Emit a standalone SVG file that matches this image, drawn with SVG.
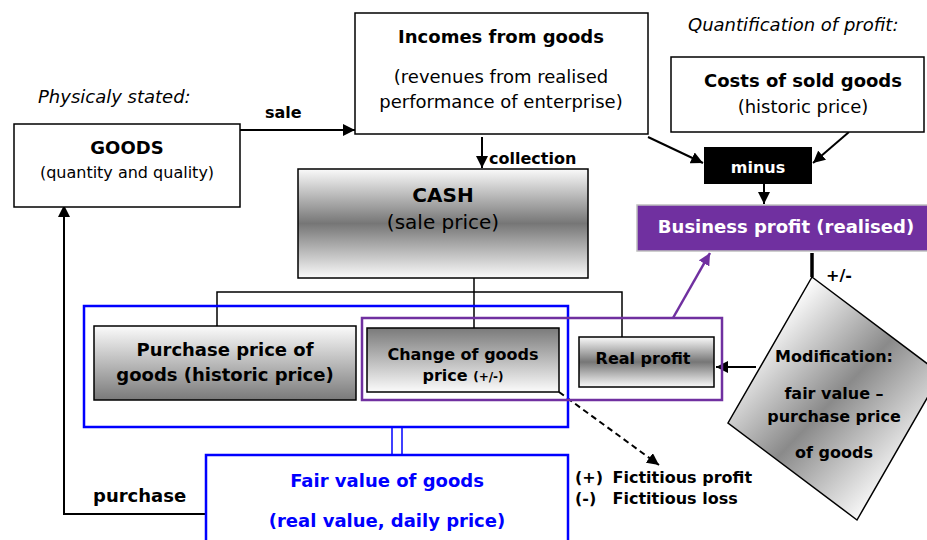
<svg xmlns="http://www.w3.org/2000/svg" width="927" height="540" viewBox="0 0 927 540">
<style>
  text { font-family: "DejaVu Sans", Verdana, sans-serif; fill: #000; }
  .b { font-weight: bold; }
  .c { text-anchor: middle; }
  .it { font-style: italic; font-size: 18px; }
  .box { fill: #fff; stroke: #000; stroke-width: 1.5; }
  .ln { fill: none; stroke: #000; stroke-width: 1.5; }
  .arr { fill: none; stroke: #000; stroke-width: 2; marker-end: url(#ah); }
</style>
<defs>
  <marker id="ah" markerUnits="userSpaceOnUse" markerWidth="14" markerHeight="12" refX="12" refY="6" orient="auto">
    <path d="M0,0 L12,6 L0,12 Z" fill="#000"/>
  </marker>
  <marker id="ahp" markerUnits="userSpaceOnUse" markerWidth="14" markerHeight="12" refX="12" refY="6" orient="auto">
    <path d="M0,0 L12,6 L0,12 Z" fill="#7030A0"/>
  </marker>
  <linearGradient id="gMid" x1="0" y1="0" x2="0" y2="1">
    <stop offset="0" stop-color="#fafafa"/>
    <stop offset="0.5" stop-color="#767676"/>
    <stop offset="1" stop-color="#fafafa"/>
  </linearGradient>
  <linearGradient id="gDown" x1="0" y1="0" x2="0" y2="1">
    <stop offset="0" stop-color="#fbfbfb"/>
    <stop offset="1" stop-color="#7a7a7a"/>
  </linearGradient>
  <linearGradient id="gUp" x1="0" y1="0" x2="0" y2="1">
    <stop offset="0" stop-color="#7a7a7a"/>
    <stop offset="1" stop-color="#fbfbfb"/>
  </linearGradient>
  <linearGradient id="gDia" gradientUnits="userSpaceOnUse" x1="770" y1="320" x2="915" y2="460">
    <stop offset="0" stop-color="#ffffff"/>
    <stop offset="0.5" stop-color="#8a8a8a"/>
    <stop offset="1" stop-color="#f8f8f8"/>
  </linearGradient>
</defs>

<text class="it" x="38" y="103">Physicaly stated:</text>
<text class="it" x="688" y="31">Quantification of profit:</text>

<g id="connectors">
  <line class="arr" x1="240" y1="130" x2="355" y2="130"/>
  <line class="arr" x1="482" y1="137" x2="482" y2="168"/>
  <line class="arr" x1="648" y1="137" x2="703" y2="163"/>
  <line class="arr" x1="849" y1="132" x2="813" y2="163"/>
  <line class="arr" x1="764" y1="184" x2="764" y2="204"/>
  <line x1="812" y1="253" x2="812" y2="277" stroke="#000" stroke-width="3.5"/>
  <line class="arr" x1="756" y1="367" x2="716" y2="367"/>
  <line x1="673" y1="318" x2="710" y2="253" stroke="#7030A0" stroke-width="2.5" marker-end="url(#ahp)"/>
  <line class="arr" x1="559" y1="392" x2="659" y2="465" stroke-dasharray="6,4"/>
  <line class="ln" x1="474" y1="278" x2="474" y2="328"/>
  <polyline class="ln" points="217,326 217,292 622,292 622,337"/>
  <line x1="392" y1="428" x2="392" y2="455" stroke="#0000FF" stroke-width="1.5"/>
  <line x1="402" y1="428" x2="402" y2="455" stroke="#0000FF" stroke-width="1.5"/>
  <polyline class="arr" points="206,514 64,514 64,205"/>
  <text class="b" x="265" y="118" font-size="16">sale</text>
  <text class="b" x="489" y="164" font-size="16">collection</text>
  <text class="b" x="93" y="502" font-size="18">purchase</text>
  <text class="b" x="826" y="281" font-size="16">+/-</text>
</g>

<g id="goods">
  <rect class="box" x="14" y="124" width="226" height="83"/>
  <text class="b c" x="127" y="154" font-size="18">GOODS</text>
  <text class="c" x="127" y="178" font-size="16">(quantity and quality)</text>
</g>

<g id="incomes">
  <rect class="box" x="355" y="13" width="293" height="121"/>
  <text class="b c" x="501" y="43" font-size="18">Incomes from goods</text>
  <text class="c" x="501" y="83" font-size="18">(revenues from realised</text>
  <text class="c" x="501" y="108" font-size="18">performance of enterprise)</text>
</g>

<g id="costs">
  <rect class="box" x="671" y="57" width="253" height="75"/>
  <text class="b c" x="803" y="87" font-size="18">Costs of sold goods</text>
  <text class="c" x="803" y="113" font-size="18">(historic price)</text>
</g>

<g id="minus">
  <rect x="704" y="147" width="108" height="37" fill="#000"/>
  <text class="b c" x="758" y="173" font-size="16" style="fill:#fff">minus</text>
</g>

<g id="business-profit">
  <rect x="637" y="205" width="300" height="46" fill="#7030A0" stroke="#bfbfbf" stroke-width="1.5"/>
  <text class="b c" x="786" y="233" font-size="18" style="fill:#fff">Business profit (realised)</text>
</g>

<g id="cash">
  <rect x="298" y="169" width="290" height="109" fill="url(#gMid)" stroke="#000" stroke-width="1.5"/>
  <text class="b c" x="443" y="202" font-size="20">CASH</text>
  <text class="c" x="443" y="229" font-size="20">(sale price)</text>
</g>

<g id="blue-frame">
  <rect x="84" y="306" width="484" height="121" fill="none" stroke="#0000FF" stroke-width="2.5"/>
</g>

<g id="purple-frame">
  <rect x="362" y="318" width="360" height="82" fill="none" stroke="#7030A0" stroke-width="2.5"/>
</g>

<g id="purchase-price">
  <rect x="94" y="326" width="262" height="74" fill="url(#gDown)" stroke="#000" stroke-width="1.5"/>
  <text class="b c" x="225" y="356" font-size="18">Purchase price of</text>
  <text class="b c" x="225" y="381" font-size="18">goods (historic price)</text>
</g>

<g id="change-price">
  <rect x="367" y="328" width="192" height="64" fill="url(#gUp)" stroke="#000" stroke-width="1.5"/>
  <text class="b c" x="463" y="360" font-size="16">Change of goods</text>
  <text class="b c" x="463" y="381" font-size="16">price <tspan font-size="12">(+/-)</tspan></text>
</g>

<g id="real-profit">
  <rect x="579" y="337" width="135" height="50" fill="url(#gMid)" stroke="#000" stroke-width="1.5"/>
  <text class="b c" x="643" y="364" font-size="16">Real profit</text>
</g>

<g id="modification">
  <polygon points="812,277 941,374 857,520 728,423" fill="url(#gDia)" stroke="#000" stroke-width="1.5"/>
  <text class="b c" x="834" y="362" font-size="16">Modification:</text>
  <text class="b c" x="834" y="399" font-size="16">fair value –</text>
  <text class="b c" x="834" y="422" font-size="16">purchase price</text>
  <text class="b c" x="834" y="458" font-size="16">of goods</text>
</g>

<g id="fictitious">
  <text class="b" font-size="16" y="483"><tspan x="575">(+)</tspan><tspan x="607"> Fictitious profit</tspan></text>
  <text class="b" font-size="16" y="504"><tspan x="575">(-)</tspan><tspan x="607"> Fictitious loss</tspan></text>
</g>

<g id="fair-value">
  <rect x="206" y="455" width="362" height="100" fill="#fff" stroke="#0000FF" stroke-width="2.5"/>
  <text class="b c" x="387" y="487" font-size="18" style="fill:#0000FF">Fair value of goods</text>
  <text class="b c" x="387" y="527" font-size="18" style="fill:#0000FF">(real value, daily price)</text>
</g>
</svg>
